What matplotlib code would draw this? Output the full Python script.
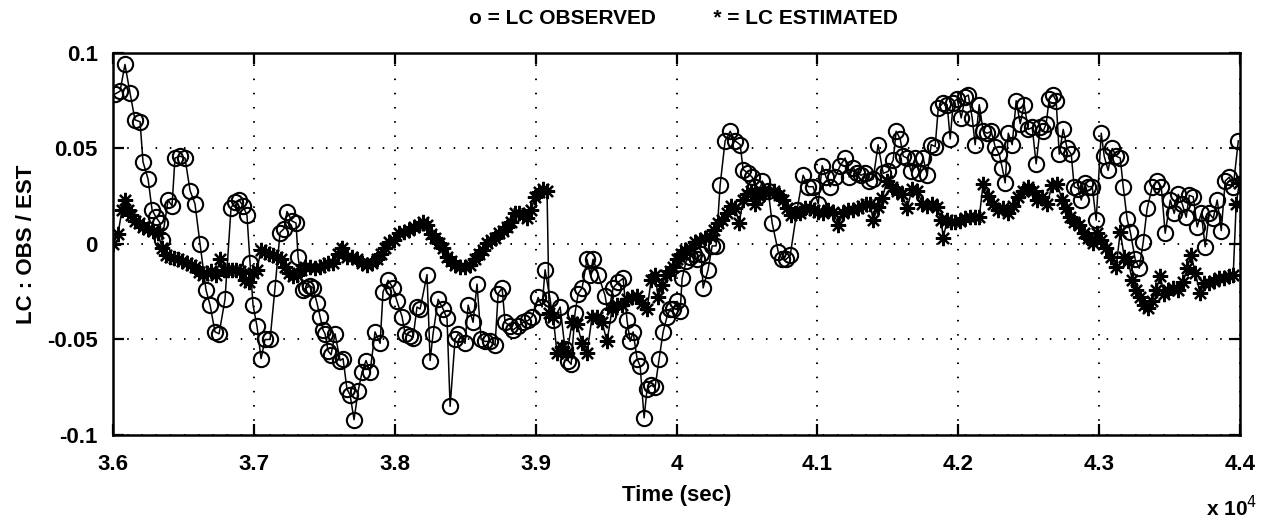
import matplotlib
matplotlib.use("Agg")
import matplotlib.pyplot as plt
from matplotlib.ticker import FixedLocator, FuncFormatter

# ---- data (time in seconds, LC value) ----
obs_t = [36014, 36050, 36085, 36121, 36156, 36192, 36213, 36249, 36277, 36305,
         36334, 36348, 36391, 36419, 36440, 36476, 36511, 36547, 36582, 36618,
         36660, 36689, 36724, 36753, 36795, 36838, 36866, 36895, 36923, 36951,
         36973, 36994, 37022, 37051, 37079, 37115, 37150, 37186, 37214, 37235,
         37271, 37299, 37314, 37349, 37370, 37399, 37420, 37448, 37470, 37491,
         37505, 37527, 37548, 37576, 37612, 37633, 37661, 37683, 37711, 37740,
         37768, 37796, 37825, 37860, 37896, 37917, 37953, 37988, 38016, 38052,
         38073, 38109, 38130, 38158, 38180, 38229, 38251, 38272, 38308, 38343,
         38371, 38393, 38428, 38450, 38499, 38521, 38556, 38584, 38613, 38641,
         38677, 38712, 38734, 38762, 38783, 38819, 38840, 38876, 38911, 38947,
         38975, 39018, 39046, 39067, 39103, 39124, 39174, 39209, 39231, 39252,
         39280, 39302, 39330, 39365, 39387, 39408, 39444, 39493, 39515, 39550,
         39586, 39621, 39649, 39671, 39692, 39720, 39742, 39770, 39791, 39820,
         39848, 39877, 39905, 39933, 39955, 39976, 40004, 40026, 40040, 40068,
         40097, 40125, 40146, 40175, 40189, 40224, 40253, 40281, 40310, 40345,
         40381, 40416, 40452, 40473, 40509, 40537, 40558, 40580, 40608, 40651,
         40679, 40722, 40750, 40778, 40807, 40856, 40899, 40935, 40970, 41006,
         41034, 41062, 41091, 41126, 41162, 41197, 41226, 41254, 41282, 41311,
         41339, 41368, 41396, 41431, 41467, 41502, 41538, 41559, 41588, 41609,
         41637, 41666, 41694, 41723, 41751, 41779, 41808, 41836, 41858, 41893,
         41921, 41943, 41964, 41992, 42021, 42049, 42071, 42099, 42120, 42149,
         42177, 42205, 42234, 42262, 42291, 42312, 42333, 42355, 42383, 42411,
         42440, 42468, 42497, 42525, 42553, 42582, 42603, 42624, 42646, 42674,
         42695, 42717, 42745, 42773, 42802, 42823, 42852, 42873, 42901, 42923,
         42951, 42979, 43015, 43036, 43064, 43093, 43121, 43150, 43171, 43199,
         43221, 43256, 43285, 43313, 43341, 43377, 43412, 43441, 43469, 43505,
         43533, 43562, 43590, 43618, 43640, 43668, 43696, 43725, 43753, 43782,
         43810, 43838, 43867, 43895, 43924, 43952, 43988]
obs_v = [0.0785, 0.080, 0.094, 0.079, 0.065, 0.064, 0.043, 0.034, 0.018, 0.014,
         0.011, 0.002, 0.023, 0.020, 0.045, 0.046, 0.045, 0.028, 0.021, 0.000,
         -0.024, -0.032, -0.046, -0.047, -0.029, 0.019, 0.022, 0.023, 0.020, 0.015,
         -0.010, -0.032, -0.043, -0.060, -0.050, -0.050, -0.023, 0.006, 0.008, 0.017,
         0.012, 0.011, -0.007, -0.024, -0.023, -0.022, -0.023, -0.031, -0.038, -0.045,
         -0.047, -0.056, -0.058, -0.047, -0.061, -0.060, -0.076, -0.079, -0.092, -0.077,
         -0.067, -0.061, -0.067, -0.046, -0.052, -0.025, -0.019, -0.023, -0.030, -0.038,
         -0.047, -0.048, -0.049, -0.033, -0.034, -0.016, -0.061, -0.047, -0.029, -0.034,
         -0.039, -0.085, -0.050, -0.047, -0.052, -0.032, -0.041, -0.021, -0.050, -0.051,
         -0.051, -0.053, -0.026, -0.023, -0.041, -0.043, -0.045, -0.043, -0.041, -0.040,
         -0.038, -0.028, -0.033, -0.0135, -0.029, -0.040, -0.033, -0.055, -0.061, -0.063,
         -0.036, -0.026, -0.023, -0.008, -0.016, -0.008, -0.016, -0.027, -0.037, -0.023,
         -0.020, -0.018, -0.040, -0.051, -0.046, -0.060, -0.064, -0.091, -0.076, -0.074,
         -0.075, -0.060, -0.046, -0.038, -0.034, -0.034, -0.030, -0.035, -0.018, -0.009,
         -0.0066, -0.005, -0.008, -0.005, -0.023, -0.0135, -0.001, -0.001, 0.031, 0.054,
         0.059, 0.054, 0.052, 0.039, 0.037, 0.035, 0.030, 0.025, 0.033, 0.028,
         0.011, -0.004, -0.008, -0.008, -0.006, 0.018, 0.036, 0.030, 0.030, 0.021,
         0.041, 0.035, 0.030, 0.035, 0.041, 0.045, 0.035, 0.040, 0.037, 0.036,
         0.037, 0.033, 0.034, 0.052, 0.037, 0.038, 0.044, 0.059, 0.055, 0.046,
         0.045, 0.038, 0.045, 0.037, 0.045, 0.036, 0.052, 0.051, 0.071, 0.074,
         0.073, 0.055, 0.074, 0.076, 0.066, 0.077, 0.078, 0.066, 0.052, 0.073,
         0.059, 0.058, 0.059, 0.051, 0.047, 0.040, 0.032, 0.058, 0.052, 0.075,
         0.063, 0.073, 0.060, 0.061, 0.042, 0.061, 0.059, 0.063, 0.076, 0.078,
         0.075, 0.047, 0.060, 0.050, 0.047, 0.030, 0.029, 0.023, 0.032, 0.030,
         0.030, 0.0125, 0.058, 0.046, 0.0385, 0.050, 0.046, 0.045, 0.030, 0.013,
         0.0064, -0.008, -0.0127, 0.001, 0.0186, 0.030, 0.033, 0.030, 0.0056, 0.023,
         0.016, 0.026, 0.021, 0.014, 0.0255, 0.0247, 0.009, 0.016, -0.0014, 0.016,
         0.0134, 0.023, 0.007, 0.033, 0.035, 0.030, 0.054]

est_t = [36000, 36035, 36064, 36085, 36107, 36128, 36156, 36185, 36213, 36249,
         36284, 36320, 36348, 36376, 36405, 36433, 36462, 36490, 36525, 36554,
         36582, 36611, 36639, 36667, 36696, 36731, 36760, 36788, 36817, 36845,
         36873, 36902, 36937, 36966, 36994, 37022, 37051, 37079, 37108, 37136,
         37164, 37193, 37221, 37250, 37278, 37306, 37335, 37363, 37399, 37434,
         37470, 37498, 37527, 37562, 37598, 37626, 37661, 37697, 37732, 37768,
         37803, 37839, 37874, 37903, 37931, 37960, 37995, 38031, 38066, 38102,
         38137, 38173, 38201, 38229, 38258, 38286, 38315, 38343, 38371, 38400,
         38428, 38464, 38499, 38535, 38570, 38599, 38627, 38655, 38684, 38712,
         38741, 38769, 38797, 38826, 38854, 38883, 38911, 38939, 38968, 38996,
         39025, 39053, 39081, 39096, 39124, 39152, 39188, 39223, 39259, 39294,
         39330, 39365, 39401, 39436, 39472, 39507, 39543, 39578, 39614, 39649,
         39685, 39720, 39756, 39791, 39820, 39848, 39870, 39898, 39926, 39955,
         39976, 40004, 40033, 40061, 40097, 40132, 40168, 40203, 40239, 40267,
         40296, 40324, 40360, 40388, 40416, 40445, 40473, 40501, 40530, 40558,
         40587, 40622, 40658, 40693, 40729, 40757, 40785, 40814, 40842, 40878,
         40913, 40949, 40977, 41006, 41041, 41077, 41112, 41148, 41183, 41219,
         41254, 41290, 41318, 41346, 41375, 41396, 41431, 41460, 41495, 41531,
         41566, 41602, 41637, 41673, 41708, 41744, 41779, 41815, 41850, 41879,
         41893, 41921, 41950, 41978, 42014, 42049, 42085, 42120, 42149, 42177,
         42213, 42248, 42284, 42319, 42355, 42390, 42426, 42461, 42497, 42532,
         42560, 42596, 42631, 42667, 42702, 42738, 42766, 42795, 42823, 42859,
         42894, 42923, 42958, 42986, 43015, 43050, 43086, 43121, 43150, 43178,
         43207, 43235, 43263, 43292, 43320, 43349, 43377, 43405, 43434, 43462,
         43491, 43526, 43562, 43597, 43625, 43654, 43682, 43717, 43746, 43782,
         43817, 43853, 43888, 43924, 43952, 43973, 43995]
est_v = [0.000, 0.005, 0.018, 0.023, 0.018, 0.015, 0.012, 0.011, 0.009, 0.008,
         0.007, 0.0056, -0.002, -0.006, -0.0066, -0.0075, -0.008, -0.009, -0.010, -0.011,
         -0.012, -0.0145, -0.016, -0.015, -0.014, -0.016, -0.008, -0.0135, -0.0135, -0.0135,
         -0.0135, -0.014, -0.019, -0.020, -0.015, -0.0135, -0.003, -0.004, -0.005, -0.006,
         -0.0066, -0.008, -0.012, -0.015, -0.017, -0.016, -0.0135, -0.012, -0.012, -0.0127,
         -0.012, -0.011, -0.010, -0.010, -0.005, -0.002, -0.0066, -0.0066, -0.008, -0.010,
         -0.011, -0.010, -0.008, -0.005, -0.002, 0.001, 0.002, 0.0056, 0.0064, 0.0073,
         0.009, 0.010, 0.0116, 0.010, 0.005, 0.003, 0.0003, -0.002, -0.0066, -0.009,
         -0.011, -0.012, -0.012, -0.011, -0.008, -0.005, -0.003, 0.0003, 0.002, 0.003,
         0.0056, 0.007, 0.009, 0.0116, 0.016, 0.016, 0.015, 0.0134, 0.0177, 0.0247,
         0.027, 0.029, 0.028, -0.036, -0.038, -0.057, -0.054, -0.057, -0.041, -0.042,
         -0.052, -0.057, -0.038, -0.038, -0.041, -0.051, -0.034, -0.032, -0.032, -0.029,
         -0.028, -0.027, -0.031, -0.034, -0.019, -0.016, -0.028, -0.0215, -0.016, -0.014,
         -0.012, -0.008, -0.005, -0.003, -0.002, 0.0012, 0.002, 0.003, 0.004, 0.0073,
         0.011, 0.0125, 0.016, 0.020, 0.019, 0.011, 0.023, 0.026, 0.028, 0.021,
         0.025, 0.027, 0.027, 0.028, 0.0255, 0.023, 0.019, 0.015, 0.016, 0.016,
         0.019, 0.019, 0.018, 0.017, 0.016, 0.018, 0.017, 0.010, 0.016, 0.0177,
         0.0177, 0.0186, 0.020, 0.021, 0.021, 0.0125, 0.0194, 0.024, 0.033, 0.030,
         0.028, 0.026, 0.0186, 0.029, 0.028, 0.0212, 0.020, 0.021, 0.0194, 0.0125,
         0.003, 0.0125, 0.0116, 0.0116, 0.012, 0.0134, 0.014, 0.014, 0.014, 0.0316,
         0.025, 0.021, 0.018, 0.0186, 0.016, 0.020, 0.0247, 0.028, 0.030, 0.028,
         0.023, 0.0247, 0.021, 0.031, 0.0316, 0.023, 0.019, 0.0143, 0.0116, 0.010,
         0.0056, 0.003, 0.0003, 0.0056, 0.002, -0.0023, -0.0066, -0.012, 0.0064, -0.0066,
         -0.009, -0.019, -0.024, -0.028, -0.032, -0.0335, -0.030, -0.024, -0.017, -0.026,
         -0.024, -0.023, -0.024, -0.020, -0.0127, -0.0057, -0.015, -0.0257, -0.0205, -0.0205,
         -0.0196, -0.018, -0.018, -0.017, -0.016, 0.021, 0.032]

x_ticks = [36000, 37000, 38000, 39000, 40000, 41000, 42000, 43000, 44000]
y_ticks = [-0.1, -0.05, 0, 0.05, 0.1]
y_tick_labels = ["-0.1", "-0.05", "0", "0.05", "0.1"]

title_text = "o = LC OBSERVED          * = LC ESTIMATED"
x_label = "Time (sec)"
y_label = "LC : OBS / EST"

# ---- styling ----
plt.rcParams["font.family"] = ["Liberation Sans", "DejaVu Sans"]
plt.rcParams["font.size"] = 16

fig = plt.figure(figsize=(12.76, 5.21), dpi=100)
ax = fig.add_axes([113 / 1276, 1 - 435 / 521, 1127 / 1276, 382 / 521])

ax.plot(obs_t, obs_v, color="black", linewidth=1.1, marker="o",
        markersize=11, markerfacecolor="none", markeredgecolor="black",
        markeredgewidth=1.5, zorder=3)
ax.plot(est_t, est_v, color="black", linewidth=1.1, marker=(8, 2, 0),
        markersize=11, markeredgecolor="black", markeredgewidth=1.6, zorder=4)

ax.set_xlim(36000, 44000)
ax.set_ylim(-0.1, 0.1)
ax.xaxis.set_major_locator(FixedLocator(x_ticks))
ax.xaxis.set_major_formatter(FuncFormatter(lambda v, p: "%g" % (v / 1e4)))
ax.set_yticks(y_ticks)
ax.set_yticklabels(y_tick_labels)

ax.grid(True, color="black", linestyle=(0, (0.8, 6.5)), linewidth=1.4)
ax.set_axisbelow(True)
ax.tick_params(direction="in", length=8, width=1.6, top=True, right=True,
               labelsize=16)
ax.tick_params(axis="x", pad=14)
ax.tick_params(axis="y", pad=11)
for lbl in ax.get_xticklabels() + ax.get_yticklabels():
    lbl.set_fontweight("bold")
for s in ax.spines.values():
    s.set_linewidth(1.8)

ax.set_xlabel(x_label, fontsize=16, labelpad=7, fontweight="bold")
ax.set_ylabel(y_label, fontsize=16, labelpad=7, fontweight="bold")
fig.text(683 / 1276, 1 - 18 / 521, title_text, ha="center", va="center",
         fontsize=15, fontweight="bold")
ax.text(0.993, -0.19, r"x 10$^4$", transform=ax.transAxes, ha="center",
        va="center", fontsize=15, fontweight="bold")

fig.savefig("out.png", dpi=100)
